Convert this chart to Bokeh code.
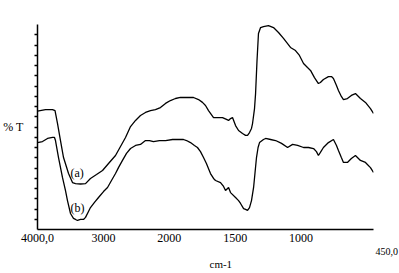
import numpy as np
from bokeh.plotting import figure
from bokeh.models import Range1d, FixedTicker, Label, Title
from bokeh.embed import file_html
from bokeh.resources import INLINE

# ---- data (wavenumber in cm-1, transmittance in arbitrary %T units 0-100) ----
wn_a = [4000, 3879, 3772, 3734, 3696, 3651, 3605, 3529, 3469, 3423, 3347, 3271, 3196, 3104,
        3013, 2922, 2816, 2740, 2664, 2588, 2512, 2437, 2361, 2285, 2210, 2134, 2057, 1991,
        1953, 1915, 1862, 1816, 1778, 1748, 1725, 1702, 1664, 1626, 1596, 1566, 1550, 1535,
        1520, 1497, 1474, 1444, 1421, 1406, 1391, 1376, 1368, 1353, 1345, 1334, 1323, 1307,
        1285, 1247, 1209, 1171, 1133, 1080, 1042, 1012, 981, 951, 928, 898, 868, 853, 830,
        792, 769, 754, 731, 716, 694, 678, 648, 618, 587, 549, 511, 473, 450]
t_a = [57.7, 58.5, 58.5, 58.0, 51.7, 43.4, 35.1, 27.3, 22.9, 22.4, 22.2, 22.4, 24.9, 26.8,
       28.8, 32.2, 36.1, 40.5, 44.9, 50.2, 53.2, 55.6, 57.1, 58.0, 58.5, 59.5, 61.5, 62.9,
       63.9, 64.4, 64.4, 64.4, 63.4, 62.0, 60.5, 58.0, 54.6, 54.6, 54.6, 53.7, 53.2, 54.1,
       54.6, 50.7, 48.3, 46.8, 45.9, 45.9, 47.3, 49.3, 51.7, 59.0, 66.3, 82.4, 95.6, 98.5,
       99.0, 99.5, 98.5, 96.1, 93.2, 88.8, 87.3, 84.9, 81.0, 79.0, 77.6, 74.1, 71.2, 71.7, 73.2,
       74.6, 74.6, 73.7, 70.2, 67.8, 64.9, 63.4, 63.9, 65.4, 66.3, 63.9, 62.0, 59.0, 56.6]

wn_b = [4000, 3924, 3848, 3772, 3742, 3727, 3681, 3621, 3575, 3545, 3499, 3454, 3423, 3393,
        3347, 3302, 3271, 3226, 3196, 3135, 3074, 2998, 2937, 2877, 2816, 2771, 2710, 2649,
        2588, 2512, 2437, 2361, 2300, 2240, 2149, 2057, 1975, 1930, 1892, 1869, 1839, 1809,
        1786, 1763, 1740, 1718, 1687, 1664, 1649, 1611, 1588, 1573, 1550, 1535, 1497, 1474,
        1459, 1436, 1421, 1406, 1391, 1376, 1360, 1349, 1338, 1326, 1315, 1285, 1269, 1231,
        1193, 1148, 1102, 1064, 1026, 981, 943, 905, 883, 868, 853, 830, 792, 754, 731, 716,
        694, 678, 648, 618, 587, 549, 511, 473, 450]
t_b = [42.4, 42.9, 44.4, 44.9, 44.9, 43.4, 35.1, 25.4, 19.0, 14.1, 7.8, 5.4, 4.9, 4.4,
       4.9, 4.9, 5.9, 8.8, 10.7, 13.2, 15.6, 18.5, 20.5, 23.9, 27.3, 30.2, 33.7, 37.1,
       39.5, 41.0, 41.5, 43.4, 43.4, 42.9, 43.4, 43.4, 43.9, 43.9, 43.9, 43.4, 42.4, 41.0,
       40.0, 38.0, 35.1, 32.2, 27.3, 24.9, 23.9, 22.9, 21.0, 19.0, 20.5, 18.0, 15.6, 14.1,
       12.7, 10.2, 9.8, 9.3, 10.7, 14.1, 20.5, 27.8, 35.1, 40.0, 42.4, 43.9, 44.4, 43.9,
       43.4, 42.0, 40.0, 41.5, 41.0, 40.0, 40.0, 39.5, 38.0, 36.1, 37.6, 40.0, 42.4, 43.9, 41.0, 38.5,
       35.1, 32.7, 32.7, 34.6, 36.1, 33.7, 32.7, 30.2, 27.8]

tick_wn = [4000, 3000, 2000, 1500, 1000]
tick_labels = ["4000,0", "3000", "2000", "1500", "1000"]
end_label = "450,0"


# FTIR abscissa: 4000-2000 compressed 2x, 2000-450 at full scale
def to_u(wn):
    wn = np.asarray(wn, dtype=float)
    return np.where(wn >= 2000, (4000 - wn) / 2.0, 1000 + (2000 - wn))


FONT = "Liberation Serif"

p = figure(frame_width=336, frame_height=205, output_backend="svg", toolbar_location=None,
           x_range=Range1d(0, float(to_u(450))), y_range=Range1d(0, 100),
           min_border_left=37, min_border_right=26, min_border_top=24, min_border_bottom=0)
p.outline_line_color = None
p.xgrid.visible = False
p.ygrid.visible = False
p.background_fill_color = "white"
p.border_fill_color = "white"

p.line(to_u(wn_a), t_a, line_color="black", line_width=1.3)
p.line(to_u(wn_b), t_b, line_color="black", line_width=1.3)

# x axis
tu = [float(v) for v in to_u(tick_wn)]
p.xaxis.ticker = FixedTicker(ticks=tu)
p.xaxis.major_label_overrides = {t: l for t, l in zip(tu, tick_labels)}
p.xaxis.major_tick_out = 0
p.xaxis.major_tick_in = 0
p.xaxis.minor_tick_line_color = None
p.xaxis.axis_line_width = 1.5
p.xaxis.axis_line_color = "black"
p.xaxis.major_label_text_font = FONT
p.xaxis.major_label_text_font_size = "12px"
p.xaxis.major_label_text_color = "black"
p.xaxis.major_label_standoff = 4

# y axis: ticks only, horizontal "% T" label
yt = list(range(5, 100, 5))
p.yaxis.ticker = FixedTicker(ticks=yt)
p.yaxis.major_label_overrides = {t: "" for t in yt}
p.yaxis.major_tick_out = 3
p.yaxis.major_tick_in = 0
p.yaxis.major_tick_line_width = 1.5
p.yaxis.minor_tick_line_color = None
p.yaxis.axis_line_width = 1.5
p.yaxis.axis_line_color = "black"
p.yaxis.major_label_standoff = 0
p.yaxis.axis_label = "% T"
p.yaxis.axis_label_orientation = "horizontal"
p.yaxis.axis_label_text_font = FONT
p.yaxis.axis_label_text_font_size = "12px"
p.yaxis.axis_label_text_font_style = "normal"
p.yaxis.axis_label_text_color = "black"
p.yaxis.axis_label_standoff = 11

# end label of the scale and the unit, placed below the axis
t_end = Title(text=end_label, align="left", offset=338, text_font=FONT,
              text_font_size="10px", text_font_style="normal", text_color="black",
              standoff=2)
t_unit = Title(text="cm-1", align="left", offset=172, text_font=FONT,
               text_font_size="11px", text_font_style="normal", text_color="black",
               standoff=0)
p.add_layout(t_end, "below")
p.add_layout(t_unit, "below")

px_per_u = 336.0 / float(to_u(450))
px_per_y = 205.0 / 100.0

for txt, yy in (("(a)", 172), ("(b)", 207)):
    p.add_layout(Label(x=(70 - 37) / px_per_u, y=(229 - yy) / px_per_y, text=txt,
                       text_font=FONT, text_font_size="12px", text_align="left",
                       text_baseline="middle", text_color="black"))

open("out.html", "w").write(file_html(p, INLINE))
